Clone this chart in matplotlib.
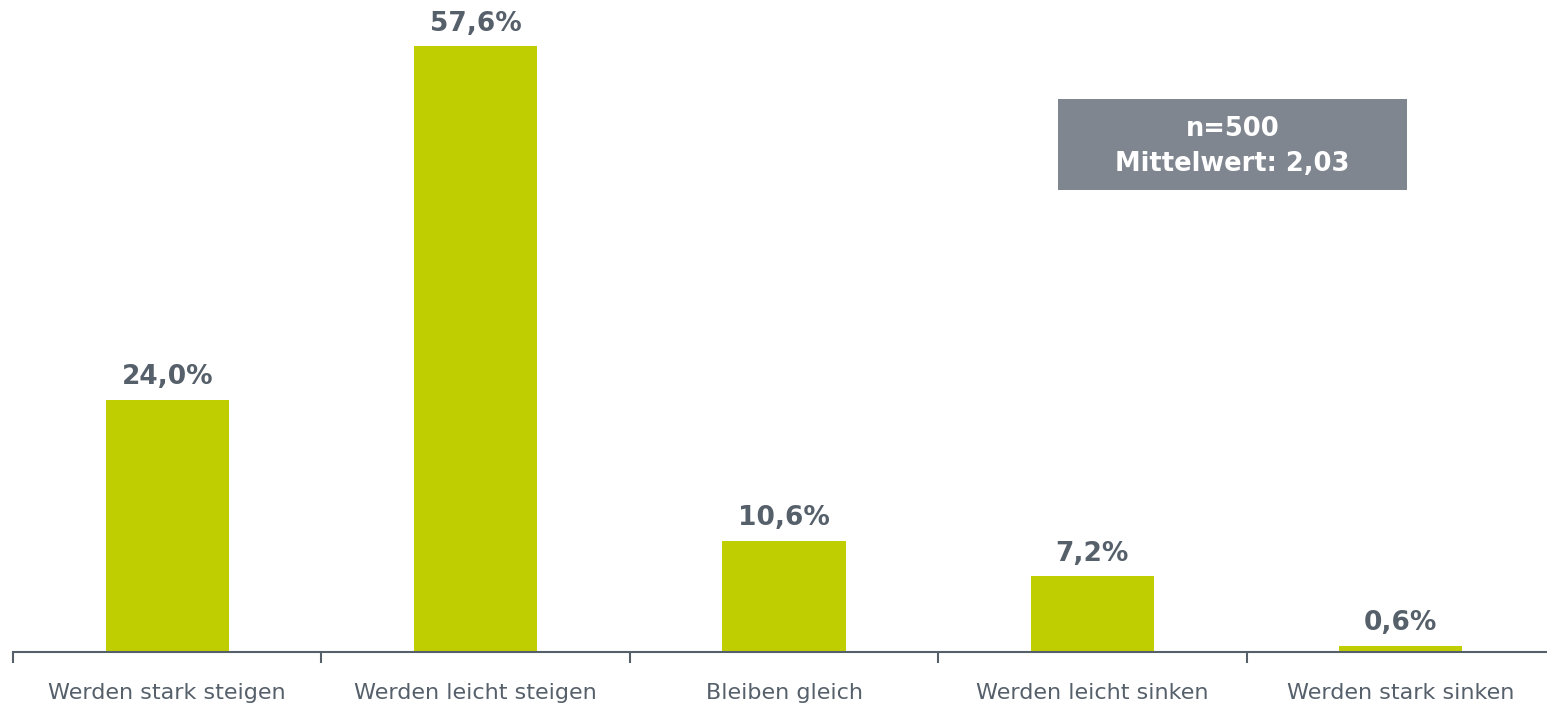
import numpy as np
import matplotlib.pyplot as plt
from matplotlib.patches import Rectangle

categories = ["Werden stark steigen", "Werden leicht steigen", "Bleiben gleich",
              "Werden leicht sinken", "Werden stark sinken"]
values = [24.0, 57.6, 10.6, 7.2, 0.6]
value_labels = ["24,0%", "57,6%", "10,6%", "7,2%", "0,6%"]
box_text = "n=500\nMittelwert: 2,03"

bar_color = "#BFCE00"
text_color = "#56606B"
axis_color = "#56606B"

plt.rcParams['font.family'] = ['DejaVu Sans']

fig = plt.figure(figsize=(15.47, 7.06), dpi=100)
W, H = 1547, 706
ax = fig.add_axes([13 / W, 54 / H, 1542 / W, 652 / H])

x = np.arange(len(categories))
ax.bar(x, values, width=0.4, color=bar_color, zorder=2)

for xi, v, lab in zip(x, values, value_labels):
    ax.annotate(lab, (xi, v), xytext=(0, 7), textcoords="offset points",
                ha="center", va="bottom", fontsize=19, fontweight="bold",
                color=text_color)

ax.set_xlim(-0.5, len(categories) - 0.5)
ax.set_ylim(0, 62.0)

for s in ["top", "right", "left"]:
    ax.spines[s].set_visible(False)
ax.spines["bottom"].set_color(axis_color)
ax.spines["bottom"].set_linewidth(1.5)
ax.set_yticks([])

ax.set_xticks(x)
ax.set_xticklabels(categories, fontsize=16, color=text_color)
ax.tick_params(axis="x", which="major", length=0, pad=22)
ax.set_xticks(np.arange(-0.5, len(categories), 1.0), minor=True)
ax.tick_params(axis="x", which="minor", length=8, width=1.5, color=axis_color)

# info box
ax.add_patch(Rectangle((1058 / W, (H - 190) / H), (1407 - 1058) / W, 91 / H,
                       transform=fig.transFigure, facecolor="#7F8690",
                       edgecolor="none", zorder=3))
fig.text((1058 + 1407) / 2 / W, (H - 146.5) / H, box_text, ha="center", va="center",
         color="white", fontsize=18.5, fontweight="bold", linespacing=1.42, zorder=4)

fig.savefig("out.png", dpi=100)
